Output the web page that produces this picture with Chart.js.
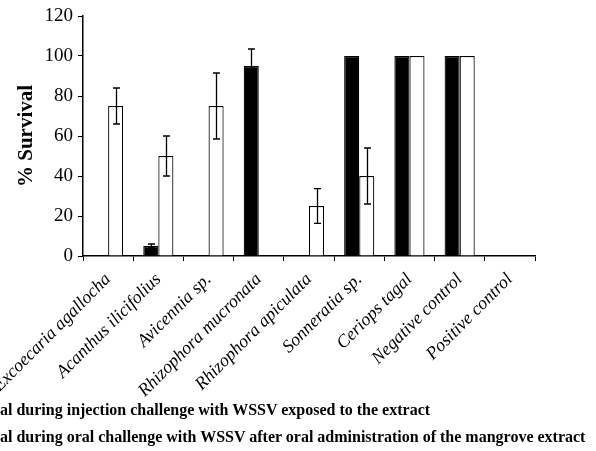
<!DOCTYPE html>
<html><head><meta charset="utf-8">
<script src="https://cdn.jsdelivr.net/npm/chart.js@4"></script>
<style>
html,body{margin:0;padding:0;background:#fff;overflow:hidden;}
#wrap{position:relative;width:596px;height:451px;overflow:hidden;background:#fff;}
#c{position:absolute;left:0;top:0;}
.leg{position:absolute;left:0;white-space:nowrap;font:bold 16px 'Liberation Serif',serif;color:#000;line-height:18px;}
.leg .pre{position:absolute;right:100%;top:0;}
</style></head><body>
<div id="wrap"><canvas id="c" width="596" height="451"></canvas>
<div class="leg" style="top:401px"><span class="pre">■ % Surviv</span>al during injection challenge with WSSV exposed to the extract</div>
<div class="leg" style="top:428px"><span class="pre">□ % Surviv</span>al during oral challenge with WSSV after oral administration of the mangrove extract</div>
</div>
<script>
const categories = ['Excoecaria agallocha','Acanthus ilicifolius','Avicennia sp.','Rhizophora mucronata','Rhizophora apiculata','Sonneratia sp.','Ceriops tagal','Negative control','Positive control'];
const injectionSurvival = [0,5,0,95,0,100,100,100,0];
const injectionError = [0,1,0,8.5,0,0,0,0,0];
const oralSurvival = [75,50,75,0,25,40,100,100,0];
const oralError = [9,10,16.5,0,8.7,14,0,0,0];
const yTickValues = [0,20,40,60,80,100,120];

const errors = [injectionError, oralError];
const errorBarPlugin = {
  id: 'errorBars',
  afterDatasetsDraw(chart) {
    const ctx = chart.ctx;
    const ys = chart.scales.y;
    ctx.save();
    ctx.strokeStyle = '#000';
    ctx.lineWidth = 1.3;
    chart.data.datasets.forEach((ds, di) => {
      const meta = chart.getDatasetMeta(di);
      meta.data.forEach((bar, i) => {
        const e = errors[di][i];
        if (!e) return;
        const v = ds.data[i];
        const x = Math.round(bar.x) + 0.5;
        const yt = ys.getPixelForValue(v + e);
        const yb = ys.getPixelForValue(v - e);
        ctx.beginPath();
        ctx.moveTo(x, yt); ctx.lineTo(x, yb);
        ctx.moveTo(x - 3.5, yt); ctx.lineTo(x + 3.5, yt);
        ctx.moveTo(x - 3.5, yb); ctx.lineTo(x + 3.5, yb);
        ctx.stroke();
      });
    });
    ctx.restore();
  }
};

Chart.defaults.font.family = "'Liberation Serif', 'Times New Roman', serif";
Chart.defaults.color = '#000';

new Chart(document.getElementById('c'), {
  type: 'bar',
  data: {
    labels: categories,
    datasets: [
      { label: 'Survival during injection challenge with WSSV exposed to the extract', data: injectionSurvival, backgroundColor: '#000', borderColor: '#000', borderWidth: 1.2 },
      { label: 'Survival during oral challenge with WSSV after oral administration of the mangrove extract', data: oralSurvival, backgroundColor: '#fff', borderColor: '#000', borderWidth: 1.2 }
    ]
  },
  options: {
    responsive: false,
    animation: false,
    events: [],
    layout: { padding: { left: 0, top: 16, right: 61, bottom: 0 } },
    datasets: { bar: { categoryPercentage: 0.6, barPercentage: 1.0 } },
    plugins: { legend: { display: false }, tooltip: { enabled: false } },
    scales: {
      x: {
        grid: { display: true, drawOnChartArea: false, drawTicks: true, tickLength: 5, color: '#000', lineWidth: 1, offset: true },
        border: { display: true, color: '#000', width: 1.5 },
        ticks: { autoSkip: false, maxRotation: 45, minRotation: 45, padding: 8, color: '#000', font: { size: 18, style: 'italic' } },
        afterFit(scale) { scale.height = 195; scale.paddingLeft = 0; scale.paddingRight = 0; }
      },
      y: {
        min: 0, max: 120,
        afterBuildTicks(scale) { scale.ticks = yTickValues.map(v => ({ value: v })); },
        grid: { display: true, drawOnChartArea: false, drawTicks: true, tickLength: 5, color: '#000', lineWidth: 1 },
        border: { display: true, color: '#000', width: 1.5 },
        ticks: { padding: 5, color: '#000', font: { size: 19 } },
        title: { display: true, text: '% Survival', color: '#000', font: { size: 21, weight: 'bold' }, padding: { top: 14, bottom: 0 } },
        afterFit(scale) { scale.width = 83; scale.paddingTop = 0; scale.paddingBottom = 0; }
      }
    }
  },
  plugins: [errorBarPlugin]
});
</script>
</body></html>
